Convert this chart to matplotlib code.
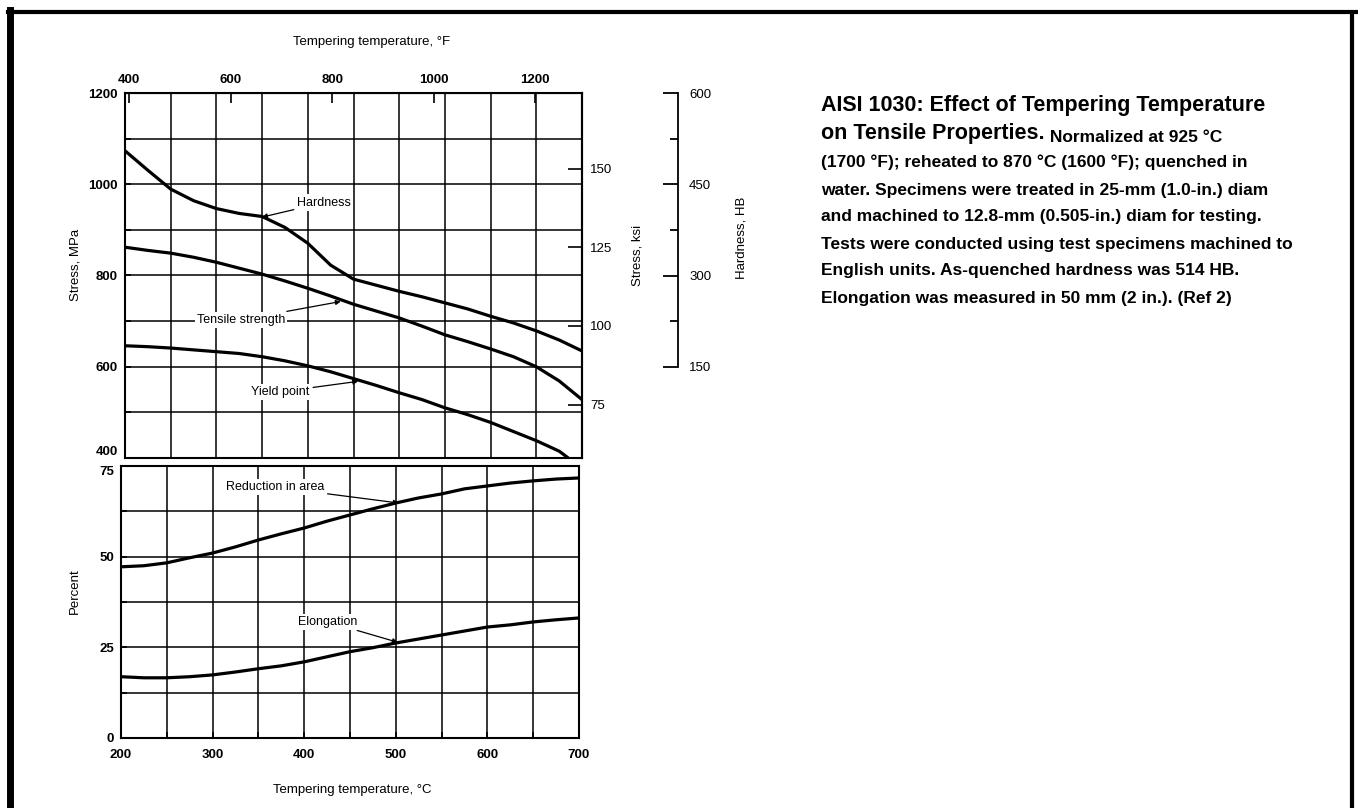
import matplotlib
matplotlib.use('Agg')
import matplotlib.pyplot as plt
from matplotlib.lines import Line2D
from matplotlib.ticker import MultipleLocator

plt.rcParams['font.family'] = ['Liberation Sans', 'DejaVu Sans']

# values (tempering temperature in degC)
temp_c = [200, 225, 250, 275, 300, 325, 350, 375, 400, 425, 450,
          475, 500, 525, 550, 575, 600, 625, 650, 675, 700]
hardness_hb = [505, 473, 442, 423, 410, 402, 397, 379, 353, 317, 294,
               284, 274, 265, 255, 245, 233, 222, 209, 194, 176]
tensile_mpa = [862, 855, 849, 840, 829, 816, 803, 788, 772, 755, 737,
               722, 707, 689, 670, 655, 639, 622, 600, 569, 528]
yield_temp_c = [200, 225, 250, 275, 300, 325, 350, 375, 400, 425, 450,
                475, 500, 525, 550, 575, 600, 625, 650, 675, 685]
yield_mpa = [646, 644, 641, 637, 633, 629, 622, 613, 602, 589, 574,
             559, 543, 528, 510, 495, 478, 458, 438, 415, 400]
reduction_pct = [47.2, 47.5, 48.3, 49.7, 51.0, 52.7, 54.6, 56.3, 57.9, 59.8, 61.5,
                 63.2, 64.8, 66.2, 67.3, 68.7, 69.5, 70.3, 70.9, 71.4, 71.7]
elongation_pct = [16.9, 16.6, 16.6, 16.9, 17.4, 18.2, 19.1, 19.9, 21.0, 22.4, 23.8,
                  24.9, 26.2, 27.3, 28.4, 29.5, 30.6, 31.2, 32.0, 32.6, 33.1]

mpa_ticks = [400, 600, 800, 1000, 1200]
c_ticks = [200, 300, 400, 500, 600, 700]
pct_ticks = [0, 25, 50, 75]
f_ticks = [400, 600, 800, 1000, 1200]
ksi_ticks = [75, 100, 125, 150]
hb_ticks = [150, 300, 450, 600]
hb_minor = [225, 375, 525]

caption_title = "AISI 1030: Effect of Tempering Temperature"
caption_head = "on Tensile Properties."
caption_lines = [
    " Normalized at 925 \u00b0C",
    "(1700 \u00b0F); reheated to 870 \u00b0C (1600 \u00b0F); quenched in",
    "water. Specimens were treated in 25-mm (1.0-in.) diam",
    "and machined to 12.8-mm (0.505-in.) diam for testing.",
    "Tests were conducted using test specimens machined to",
    "English units. As-quenched hardness was 514 HB.",
    "Elongation was measured in 50 mm (2 in.). (Ref 2)",
]

W, H = 1358, 808
fig = plt.figure(figsize=(W / 100, H / 100), dpi=100)


def px_rect(l, t, r, b):
    return [l / W, 1 - b / H, (r - l) / W, (b - t) / H]


def px(x, y):
    return x / W, 1 - y / H


grid_kw = dict(color='black', linewidth=1.1)
curve_kw = dict(color='black', linewidth=2.3, solid_capstyle='butt')
note_box = dict(facecolor='white', edgecolor='none', pad=1.5)
arrow_kw = dict(arrowstyle='-|>', color='black', lw=0.9, mutation_scale=7,
                shrinkA=1, shrinkB=0)

# ---- top panel: stress ----
ax1 = fig.add_axes(px_rect(125, 93, 582, 458))
ax1.set_xlim(200, 700)
ax1.set_ylim(400, 1200)
ax1.xaxis.set_major_locator(MultipleLocator(100))
ax1.xaxis.set_minor_locator(MultipleLocator(50))
ax1.yaxis.set_minor_locator(MultipleLocator(100))
ax1.set_yticks(mpa_ticks, labels=[str(v) for v in mpa_ticks],
               fontweight='bold', fontsize=9.5)
ax1.grid(which='both', **grid_kw)
ax1.tick_params(axis='x', which='both', bottom=False, labelbottom=False)
ax1.tick_params(axis='y', which='both', direction='in', length=4, width=1.2, pad=5)
ax1.get_yticklabels()[0].set_verticalalignment('bottom')
for s in ax1.spines.values():
    s.set_linewidth(1.5)

ax1.plot(temp_c, tensile_mpa, **curve_kw)
ax1.plot(yield_temp_c, yield_mpa, **curve_kw)

secax = ax1.secondary_xaxis('top', functions=(lambda c: c * 9 / 5 + 32,
                                              lambda f: (f - 32) * 5 / 9))
secax.set_xticks(f_ticks, labels=[str(v) for v in f_ticks],
                 fontweight='bold', fontsize=9.5)
secax.tick_params(direction='in', length=7, width=1.2, pad=5)

ax_ksi = ax1.twinx()
ax_ksi.set_ylim(400 / 6.894757, 1200 / 6.894757)
ax_ksi.set_yticks(ksi_ticks, labels=[str(v) for v in ksi_ticks], fontsize=9.5)
ax_ksi.tick_params(axis='y', direction='in', length=10, width=1.2, pad=6)
for name in ['top', 'left', 'bottom']:
    ax_ksi.spines[name].set_visible(False)
ax_ksi.spines['right'].set_linewidth(1.5)

ax_hb = ax1.twinx()
ax_hb.set_ylim(0, 600)
ax_hb.spines['right'].set_position(('axes', (678 - 125) / 457))
ax_hb.spines['right'].set_bounds(150, 600)
ax_hb.spines['right'].set_linewidth(1.3)
for name in ['top', 'left', 'bottom']:
    ax_hb.spines[name].set_visible(False)
ax_hb.set_yticks(hb_ticks, labels=[str(v) for v in hb_ticks], fontsize=9.5)
ax_hb.set_yticks(hb_minor, minor=True)
ax_hb.tick_params(axis='y', which='major', direction='in', length=11, width=1.3, pad=8)
ax_hb.tick_params(axis='y', which='minor', direction='in', length=6, width=1.3)
ax_hb.plot(temp_c, hardness_hb, **curve_kw)

ax1.annotate('Hardness', xy=(350, 928), xytext=(418, 960), fontsize=9,
             ha='center', va='center', bbox=note_box, arrowprops=arrow_kw)
ax1.annotate('Tensile strength', xy=(436, 743), xytext=(327, 703), fontsize=9,
             ha='center', va='center', bbox=note_box, arrowprops=arrow_kw)
ax1.annotate('Yield point', xy=(455, 568), xytext=(370, 545), fontsize=9,
             ha='center', va='center', bbox=note_box, arrowprops=arrow_kw)

# ---- bottom panel: percent ----
ax2 = fig.add_axes(px_rect(121, 466, 579, 738))
ax2.set_xlim(200, 700)
ax2.set_ylim(0, 75)
ax2.xaxis.set_minor_locator(MultipleLocator(50))
ax2.yaxis.set_minor_locator(MultipleLocator(12.5))
ax2.set_xticks(c_ticks, labels=[str(v) for v in c_ticks],
               fontweight='bold', fontsize=9.5)
ax2.set_yticks(pct_ticks, labels=[str(v) for v in pct_ticks],
               fontweight='bold', fontsize=9.5)
ax2.grid(which='both', **grid_kw)
ax2.tick_params(which='both', direction='in', length=4, width=1.2, pad=5)
ax2.tick_params(axis='x', pad=8)
ax2.get_yticklabels()[-1].set_verticalalignment('top')
for s in ax2.spines.values():
    s.set_linewidth(1.5)

ax2.plot(temp_c, reduction_pct, **curve_kw)
ax2.plot(temp_c, elongation_pct, **curve_kw)

ax2.annotate('Reduction in area', xy=(503, 64.8), xytext=(368, 69.2), fontsize=9,
             ha='center', va='center', bbox=note_box, arrowprops=arrow_kw)
ax2.annotate('Elongation', xy=(502, 26.4), xytext=(426, 32.0), fontsize=9,
             ha='center', va='center', bbox=note_box, arrowprops=arrow_kw)

# ---- axis titles ----
fig.text(*px(372, 42), 'Tempering temperature, \u00b0F', fontsize=9.5,
         ha='center', va='center')
fig.text(*px(352, 790), 'Tempering temperature, \u00b0C', fontsize=9.5,
         ha='center', va='center')
fig.text(*px(75, 265), 'Stress, MPa', fontsize=9.5, rotation=90,
         ha='center', va='center')
fig.text(*px(75, 591), 'Percent', fontsize=9.5, rotation=90,
         ha='center', va='center')
fig.text(*px(637, 255), 'Stress, ksi', fontsize=9.5, rotation=90,
         ha='center', va='center')
fig.text(*px(742, 238), 'Hardness, HB', fontsize=9.5, rotation=90,
         ha='center', va='center')

# ---- caption block ----
x0 = 821
line_y = [106, 134, 162, 190, 216, 244, 270, 298]
fig.text(*px(x0, line_y[0]), caption_title, fontweight='bold',
         fontsize=15.5, va='center')
head = fig.text(*px(x0, line_y[1]), caption_head, fontweight='bold',
                fontsize=15.5, va='center')
fig.add_artist(plt.Annotation(caption_lines[0], xy=(1, 0), xycoords=head,
                              fontweight='bold', fontsize=12.5, va='bottom'))
for y, line in zip(line_y[2:], caption_lines[1:]):
    fig.text(*px(x0, y), line, fontweight='bold', fontsize=12.5, va='center')

# ---- scanned page frame ----
fig.add_artist(Line2D([10 / W, 10 / W], [0, 1 - 10 / H], color='black', lw=5))
fig.add_artist(Line2D([8 / W, 1], [1 - 12 / H, 1 - 12 / H], color='black', lw=3))
fig.add_artist(Line2D([1352 / W, 1352 / W], [0, 1 - 14 / H], color='black', lw=3))

fig.savefig('out.png', dpi=100)
